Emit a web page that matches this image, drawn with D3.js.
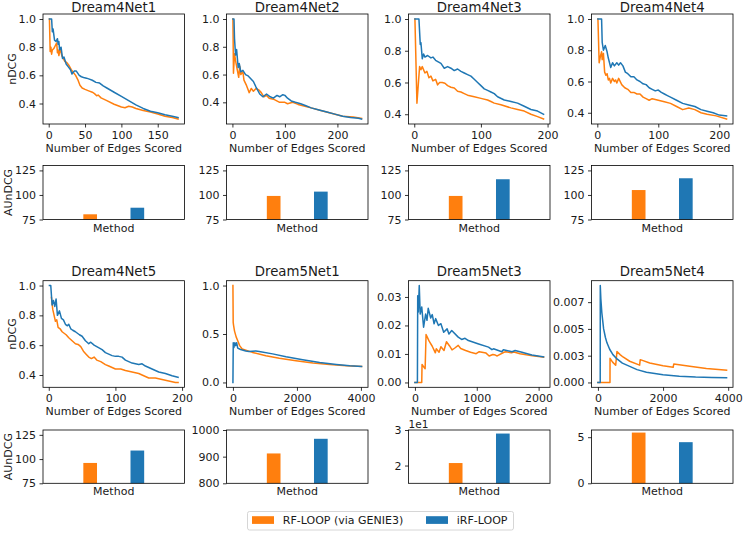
<!DOCTYPE html>
<html><head><meta charset="utf-8">
<script src="https://cdn.jsdelivr.net/npm/d3@7"></script>
<style>
body{margin:0;background:#fff}
svg text{font-family:"DejaVu Sans",sans-serif;fill:#1a1a1a}
</style>
</head><body>
<svg id="chart" width="743" height="533"></svg>
<script>
// ---------- data ----------
const titles = ["Dream4Net1","Dream4Net2","Dream4Net3","Dream4Net4","Dream4Net5","Dream5Net1","Dream5Net3","Dream5Net4"];
const seriesNames = ["RF-LOOP (via GENIE3)","iRF-LOOP"];

const d4n1_rf = [[1,1.0],[2,0.77],[3,0.80],[4,0.75],[5,0.78],[7,0.79],[9,0.81],[11,0.83],[12,0.76],[13,0.78],[14,0.74],[16,0.79],[18,0.74],[20,0.72],[22,0.70],[25,0.69],[28,0.67],[31,0.64],[34,0.62],[37,0.60],[40,0.57],[43,0.53],[46,0.51],[50,0.50],[55,0.49],[60,0.48],[63,0.47],[66,0.455],[68,0.46],[72,0.44],[80,0.42],[90,0.395],[100,0.375],[105,0.37],[110,0.38],[115,0.375],[120,0.365],[130,0.35],[140,0.34],[150,0.325],[160,0.31],[170,0.30],[178,0.29]];
const d4n1_irf = [[1,1.0],[4,1.0],[5,0.91],[6,0.93],[8,0.85],[10,0.84],[12,0.86],[13,0.82],[14,0.84],[15,0.78],[17,0.80],[19,0.72],[21,0.73],[24,0.68],[27,0.66],[30,0.64],[32,0.61],[35,0.63],[38,0.63],[42,0.60],[45,0.59],[48,0.585],[52,0.58],[55,0.575],[60,0.565],[65,0.55],[70,0.545],[75,0.525],[80,0.51],[90,0.48],[100,0.45],[110,0.42],[120,0.39],[130,0.365],[140,0.345],[150,0.335],[160,0.32],[170,0.31],[178,0.30]];

const d4n2_rf = [[1,1.0],[2,0.61],[4,0.75],[6,0.70],[9,0.64],[12,0.58],[14,0.66],[16,0.60],[20,0.62],[22,0.56],[27,0.52],[32,0.47],[36,0.50],[40,0.48],[45,0.50],[50,0.49],[55,0.47],[60,0.44],[65,0.45],[70,0.43],[80,0.42],[90,0.40],[100,0.40],[105,0.39],[115,0.40],[125,0.385],[140,0.37],[150,0.36],[170,0.34],[190,0.32],[210,0.30],[230,0.295],[246,0.285]];
const d4n2_irf = [[1,1.0],[3,1.0],[4,0.86],[6,0.74],[8,0.78],[11,0.65],[13,0.68],[16,0.62],[20,0.63],[25,0.60],[30,0.59],[35,0.57],[40,0.55],[45,0.51],[52,0.46],[58,0.44],[65,0.46],[72,0.44],[78,0.43],[85,0.45],[90,0.44],[96,0.455],[100,0.45],[105,0.43],[112,0.41],[120,0.40],[130,0.39],[140,0.375],[150,0.36],[165,0.345],[180,0.33],[195,0.315],[210,0.30],[225,0.29],[240,0.285],[246,0.28]];

const d4n3_rf = [[1,1.0],[4,0.47],[8,0.70],[10,0.68],[12,0.70],[16,0.66],[19,0.67],[22,0.63],[25,0.64],[28,0.61],[32,0.62],[35,0.585],[38,0.60],[42,0.60],[46,0.595],[50,0.58],[55,0.57],[60,0.565],[65,0.545],[70,0.54],[75,0.53],[80,0.52],[90,0.51],[100,0.50],[110,0.49],[115,0.48],[120,0.47],[130,0.46],[145,0.44],[155,0.43],[165,0.42],[175,0.40],[185,0.385],[194,0.37]];
const d4n3_irf = [[1,1.0],[7,1.0],[9,0.84],[10,0.85],[12,0.75],[14,0.78],[16,0.76],[20,0.77],[25,0.755],[28,0.76],[32,0.74],[36,0.73],[40,0.72],[45,0.69],[50,0.70],[55,0.69],[60,0.675],[65,0.685],[70,0.67],[75,0.66],[80,0.65],[85,0.64],[90,0.62],[95,0.60],[100,0.58],[105,0.56],[110,0.55],[115,0.54],[120,0.53],[125,0.51],[135,0.49],[145,0.48],[155,0.47],[165,0.45],[175,0.43],[185,0.42],[194,0.40]];

const d4n4_rf = [[1,1.0],[3,0.72],[5,0.76],[7,0.79],[8,0.74],[10,0.78],[12,0.66],[14,0.64],[16,0.65],[18,0.61],[20,0.62],[22,0.59],[25,0.62],[28,0.60],[30,0.61],[32,0.59],[35,0.62],[40,0.58],[45,0.56],[50,0.55],[55,0.53],[60,0.53],[65,0.52],[70,0.52],[75,0.50],[80,0.49],[85,0.48],[90,0.49],[100,0.48],[110,0.47],[120,0.46],[130,0.44],[140,0.42],[150,0.43],[160,0.42],[170,0.40],[180,0.39],[195,0.38],[212,0.36]];
const d4n4_irf = [[1,1.0],[7,1.0],[8,0.85],[10,0.80],[13,0.83],[16,0.79],[18,0.75],[22,0.69],[25,0.72],[28,0.70],[32,0.72],[35,0.705],[38,0.72],[42,0.70],[46,0.66],[50,0.65],[55,0.63],[60,0.63],[65,0.61],[70,0.60],[75,0.585],[80,0.58],[85,0.56],[90,0.55],[95,0.54],[100,0.545],[105,0.53],[110,0.52],[115,0.51],[120,0.50],[130,0.48],[140,0.46],[150,0.45],[160,0.44],[170,0.42],[180,0.41],[190,0.40],[200,0.385],[212,0.38]];

const d4n5_rf = [[4,0.92],[6,0.84],[8,0.80],[10,0.76],[12,0.77],[14,0.72],[17,0.71],[20,0.69],[23,0.68],[26,0.67],[30,0.65],[35,0.63],[40,0.61],[44,0.605],[48,0.59],[52,0.56],[56,0.54],[60,0.52],[64,0.51],[68,0.52],[72,0.50],[78,0.49],[85,0.47],[90,0.46],[95,0.45],[100,0.44],[108,0.44],[115,0.43],[125,0.42],[135,0.41],[145,0.39],[150,0.38],[160,0.38],[170,0.37],[180,0.36],[190,0.35],[194,0.35]];
const d4n5_irf = [[1,1.0],[3,1.0],[5,0.87],[7,0.90],[9,0.86],[11,0.91],[13,0.80],[16,0.83],[19,0.78],[22,0.77],[25,0.74],[28,0.73],[30,0.74],[33,0.71],[36,0.70],[40,0.69],[43,0.68],[46,0.67],[50,0.66],[55,0.63],[60,0.61],[63,0.62],[68,0.60],[72,0.59],[76,0.58],[80,0.57],[85,0.55],[90,0.54],[95,0.53],[100,0.525],[105,0.525],[110,0.52],[115,0.50],[125,0.48],[135,0.47],[140,0.475],[145,0.46],[155,0.44],[165,0.42],[175,0.41],[185,0.395],[194,0.385]];

const d5n1_rf = [[0,1.0],[8,0.62],[20,0.59],[50,0.53],[100,0.47],[150,0.43],[210,0.38],[290,0.345],[610,0.31],[1030,0.276],[1450,0.25],[1970,0.224],[2500,0.20],[3020,0.186],[3550,0.172],[4020,0.166]];
const d5n1_irf = [[0,0],[10,0.41],[30,0.36],[60,0.41],[85,0.38],[115,0.41],[150,0.355],[240,0.34],[400,0.325],[500,0.32],[715,0.325],[820,0.32],[1240,0.295],[1660,0.265],[2180,0.235],[2710,0.207],[3230,0.186],[3650,0.172],[4020,0.166]];

const d5n3_rf = [[0,0],[110,0],[115,0.0063],[150,0.0052],[165,0.0048],[180,0.0168],[230,0.0145],[280,0.0127],[330,0.0104],[345,0.0118],[390,0.0106],[420,0.0125],[470,0.0112],[510,0.0143],[560,0.0128],[600,0.0114],[640,0.0120],[700,0.0130],[740,0.0119],[820,0.0112],[900,0.0106],[990,0.0101],[1040,0.0108],[1150,0.0103],[1200,0.0093],[1260,0.0098],[1300,0.0096],[1330,0.0093],[1440,0.0106],[1470,0.0108],[1560,0.0104],[1600,0.0107],[1700,0.0101],[1800,0.0097],[1900,0.0094],[2000,0.0091],[2080,0.0089]];
const d5n3_irf = [[0,0],[40,0],[45,0.0304],[55,0.0247],[70,0.0340],[85,0.0240],[110,0.0265],[140,0.0194],[173,0.0240],[195,0.0218],[215,0.0260],[255,0.0226],[280,0.0238],[310,0.0206],[335,0.0224],[380,0.0200],[420,0.0206],[465,0.0176],[520,0.0188],[550,0.0170],[595,0.0182],[700,0.0159],[755,0.0151],[810,0.0155],[865,0.0147],[1030,0.0135],[1190,0.0124],[1245,0.0115],[1270,0.0118],[1405,0.0108],[1430,0.0115],[1570,0.0108],[1620,0.0112],[1730,0.0106],[1890,0.0096],[2080,0.0090]];

const d5n4_rf = [[0,0],[370,0],[372,0.00225],[450,0.0019],[545,0.0016],[585,0.0029],[680,0.0026],[770,0.00238],[975,0.00198],[1280,0.00162],[1300,0.00213],[1590,0.00182],[2000,0.00157],[2310,0.00142],[2330,0.00173],[2820,0.00151],[3330,0.0013],[3950,0.00114]];
const d5n4_irf = [[0,0],[70,0],[72,0.00905],[90,0.0078],[120,0.0065],[175,0.0050],[230,0.0042],[277,0.0037],[360,0.0031],[460,0.0026],[585,0.0022],[750,0.0018],[975,0.0015],[1200,0.0012],[1490,0.00095],[2000,0.00072],[2500,0.00058],[3000,0.0005],[3500,0.00046],[3950,0.00043]];

const rfSeries  = [d4n1_rf, d4n2_rf, d4n3_rf, d4n4_rf, d4n5_rf, d5n1_rf, d5n3_rf, d5n4_rf];
const irfSeries = [d4n1_irf, d4n2_irf, d4n3_irf, d4n4_irf, d4n5_irf, d5n1_irf, d5n3_irf, d5n4_irf];

const xTickValues = [[0,50,100,150],[0,100,200],[0,100,200],[0,100,200],[0,100,200],[0,2000,4000],[0,1000,2000],[0,2000,4000]];
const yTickValues = [[0.4,0.6,0.8,1.0],[0.4,0.6,0.8,1.0],[0.4,0.6,0.8,1.0],[0.4,0.6,0.8,1.0],[0.4,0.6,0.8,1.0],[0,0.5,1.0],[0,0.01,0.02,0.03],[0,0.0025,0.005,0.0075]];
const yTickLabels = [["0.4","0.6","0.8","1.0"],["0.4","0.6","0.8","1.0"],["0.4","0.6","0.8","1.0"],["0.4","0.6","0.8","1.0"],["0.4","0.6","0.8","1.0"],["0.0","0.5","1.0"],["0.00","0.01","0.02","0.03"],["0.000","0.003","0.005","0.007"]];

const aundcgRF  = [80.3, 99.0, 99.0, 105.0, 96.0, 912, 20.7, 5.5];
const aundcgIRF = [87.0, 103.4, 116.0, 117.0, 108.8, 967, 29.0, 4.46];
const barDomains = [[75,130],[75,130],[75,130],[75,130],[75,130],[800,1000],[15,30],[0,5.78]];
const barTickValues = [[75,100,125],[75,100,125],[75,100,125],[75,100,125],[75,100,125],[800,900,1000],[20,30],[0,5]];
const barTickLabels = [["75","100","125"],["75","100","125"],["75","100","125"],["75","100","125"],["75","100","125"],["800","900","1000"],["2","3"],["0","5"]];
const barOffsetText = ["","","","","","","1e1",""];

// ---------- layout / style ----------
const colors = ["#ff7f0e","#1f77b4"];
const colLeft = [43, 226.5, 408.5, 591.5];
const W = 141.5;
const rows = [
  {lt:14, lb:124, bt:165.5, bb:219.5, ty:12.3, xl:27.8},
  {lt:280.7, lb:387.3, bt:430, bb:483.3, ty:276, xl:28.0}
];
const FS = 11;

const svg = d3.select("#chart");
svg.append("rect").attr("width",743).attr("height",533).attr("fill","#fff");

function padDomain(vals){
  const [a,b] = d3.extent(vals);
  const m = (b-a)*0.05;
  return [a-m, b+m];
}
function styleAxis(g){
  g.attr("font-size",FS).attr("font-family","DejaVu Sans");
  g.select(".domain").remove();
  g.selectAll(".tick line").attr("stroke","#000").attr("stroke-width",0.8);
  g.selectAll(".tick text").attr("fill","#1a1a1a");
}

titles.forEach((title,i)=>{
  const r = rows[i<4?0:1];
  const L = colLeft[i%4];
  const rf = rfSeries[i], irf = irfSeries[i];
  const all = rf.concat(irf);

  // ---- line panel ----
  const x = d3.scaleLinear().domain(padDomain(all.map(d=>d[0]))).range([L, L+W]);
  const y = d3.scaleLinear().domain(padDomain(all.map(d=>d[1]))).range([r.lb, r.lt]);
  const line = d3.line().x(d=>x(d[0])).y(d=>y(d[1]));

  const gx = svg.append("g").attr("transform",`translate(0,${r.lb})`)
    .call(d3.axisBottom(x).tickValues(xTickValues[i]).tickFormat(d3.format("d")).tickSize(3.5).tickPadding(3.5));
  styleAxis(gx);
  const gy = svg.append("g").attr("transform",`translate(${L},0)`)
    .call(d3.axisLeft(y).tickValues(yTickValues[i]).tickFormat((d,k)=>yTickLabels[i][k]).tickSize(3.5).tickPadding(3.5));
  styleAxis(gy);

  [rf, irf].forEach((s,k)=>{
    svg.append("path").datum(s).attr("d",line).attr("fill","none")
      .attr("stroke",colors[k]).attr("stroke-width",1.5)
      .attr("stroke-linejoin","round").attr("stroke-linecap","square");
  });
  svg.append("rect").attr("x",L).attr("y",r.lt).attr("width",W).attr("height",r.lb-r.lt)
    .attr("fill","none").attr("stroke","#000").attr("stroke-width",0.8);

  svg.append("text").attr("x",L+W/2).attr("y",r.ty).attr("text-anchor","middle")
    .attr("font-size",13.3).text(title);
  svg.append("text").attr("x",L+W/2).attr("y",r.lb+r.xl).attr("text-anchor","middle")
    .attr("font-size",FS).text("Number of Edges Scored");

  // ---- bar panel ----
  const xb = d3.scaleLinear().domain([-1,2]).range([L, L+W]);
  const yb = d3.scaleLinear().domain(barDomains[i]).range([r.bb, r.bt]);
  const gyb = svg.append("g").attr("transform",`translate(${L},0)`)
    .call(d3.axisLeft(yb).tickValues(barTickValues[i]).tickFormat((d,k)=>barTickLabels[i][k]).tickSize(3.5).tickPadding(3.5));
  styleAxis(gyb);
  const bw = 0.29;
  [aundcgRF[i], aundcgIRF[i]].forEach((v,k)=>{
    svg.append("rect").attr("x",xb(k-bw/2)).attr("width",xb(k+bw/2)-xb(k-bw/2))
      .attr("y",yb(v)).attr("height",r.bb-yb(v)).attr("fill",colors[k]);
  });
  svg.append("rect").attr("x",L).attr("y",r.bt).attr("width",W).attr("height",r.bb-r.bt)
    .attr("fill","none").attr("stroke","#000").attr("stroke-width",0.8);
  svg.append("text").attr("x",L+W/2).attr("y",r.bb+12).attr("text-anchor","middle")
    .attr("font-size",FS).text("Method");
  if(barOffsetText[i]){
    svg.append("text").attr("x",L).attr("y",r.bt-1.8).attr("font-size",10.5).text(barOffsetText[i]);
  }

  if(i%4===0){
    svg.append("text").attr("transform",`translate(15.5,${(r.lt+r.lb)/2}) rotate(-90)`)
      .attr("text-anchor","middle").attr("font-size",FS).text("nDCG");
    svg.append("text").attr("transform",`translate(12,${(r.bt+r.bb)/2}) rotate(-90)`)
      .attr("text-anchor","middle").attr("font-size",FS).text("AUnDCG");
  }
});

// ---- legend ----
const lg = svg.append("g");
lg.append("rect").attr("x",247.5).attr("y",511.5).attr("width",266).attr("height",18.5)
  .attr("rx",2).attr("fill","#fff").attr("stroke","#cccccc").attr("stroke-width",0.8);
const legX = [252, 426];
seriesNames.forEach((n,k)=>{
  lg.append("rect").attr("x",legX[k]).attr("y",516.2).attr("width",22).attr("height",7.7).attr("fill",colors[k]);
  lg.append("text").attr("x",legX[k]+30.8).attr("y",524).attr("font-size",FS).text(n);
});
</script>
</body></html>
